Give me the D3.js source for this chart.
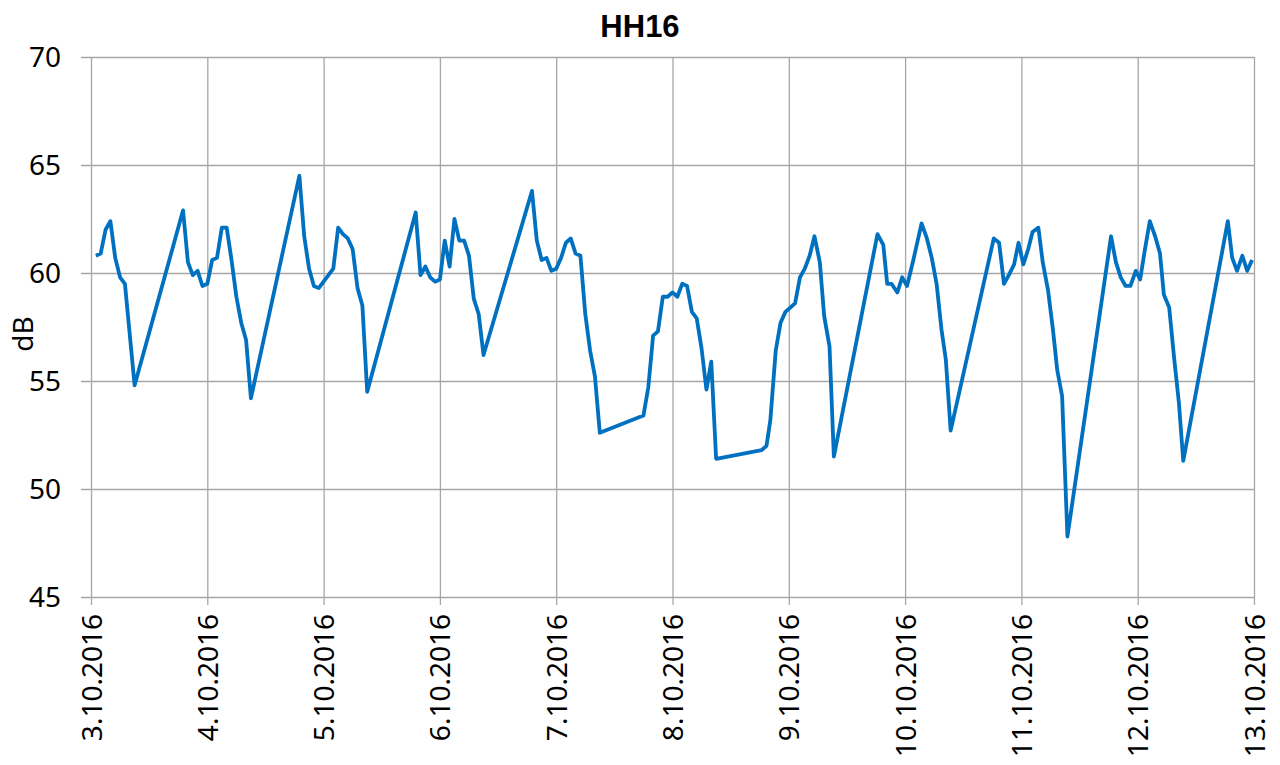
<!DOCTYPE html>
<html>
<head>
<meta charset="utf-8">
<script src="https://cdn.jsdelivr.net/npm/d3@7"></script>
<style>
  body { margin: 0; background: #fff; }
  text { font-family: "Noto Sans", "Open Sans", sans-serif; fill: #000; }
  .grid line { stroke: #a6a6a6; stroke-width: 1.3; }
</style>
</head>
<body>
<div class="svg-container"></div>
<script>
// chart data
let chartTitle = 'HH16';
let yLabel = 'dB';
let yTicks = [45, 50, 55, 60, 65, 70];
let dayLabels = ['3.10.2016', '4.10.2016', '5.10.2016', '6.10.2016', '7.10.2016',
  '8.10.2016', '9.10.2016', '10.10.2016', '11.10.2016', '12.10.2016', '13.10.2016'];

// hours since 3.10.2016 00:00
let hours = [
  1, 2, 3, 4, 5, 6, 7, 9,
  19, 20, 21, 22, 23, 24, 25, 26, 27, 28, 29, 30, 31, 32, 33,
  43, 44, 45, 46, 47, 48, 49, 50, 51, 52, 53, 54, 55, 56, 57,
  67, 68, 69, 70, 71, 72, 73, 74, 75, 76, 77, 78, 79, 80, 81,
  91, 92, 93, 94, 95, 96, 97, 98, 99, 100, 101, 102, 103, 104, 105,
  114, 115, 116, 117, 118, 119, 120, 121, 122, 123, 124, 125, 126, 127, 128, 129,
  138.4, 139.4, 140.2, 141.3, 142.3, 143.3, 144.3, 145.3, 146.3, 147.3, 148.3, 149.3, 150.4, 151.3, 152.4, 153.3,
  162.3, 163.5, 164.3, 165.2, 166.4, 167.4, 168.4, 169.7, 171.4, 172.5, 173.5, 174.5, 175.5, 176.4, 177.4,
  186.3, 187.4, 188.4, 189.4, 190.5, 191.4, 192.4, 193.4, 194.3, 195.5, 196.4, 197.5, 198.5, 199.4, 200.4, 201.5,
  210.5, 211.5, 212.5, 213.5, 214.5, 215.6, 216.5, 217.5, 218.5, 219.6, 220.6, 221.4, 222.5, 223.5, 224.5, 225.4,
  234.6, 235.5, 236.5, 237.6, 238.6, 239.6
];

let levels = [
  60.8, 60.9, 62.0, 62.4, 60.7, 59.8, 59.5, 54.8,
  62.9, 60.5, 59.9, 60.1, 59.4, 59.5, 60.6, 60.7, 62.1, 62.1, 60.6, 58.9, 57.7, 56.9, 54.2,
  64.5, 61.7, 60.2, 59.4, 59.3, 59.6, 59.9, 60.2, 62.1, 61.8, 61.6, 61.1, 59.3, 58.5, 54.5,
  62.8, 59.9, 60.3, 59.8, 59.6, 59.7, 61.5, 60.3, 62.5, 61.5, 61.5, 60.8, 58.8, 58.1, 56.2,
  63.8, 61.5, 60.6, 60.7, 60.1, 60.2, 60.7, 61.4, 61.6, 60.9, 60.8, 58.1, 56.4, 55.2, 52.6,
  53.4, 54.7, 57.1, 57.3, 58.9, 58.9, 59.1, 58.9, 59.5, 59.4, 58.2, 57.9, 56.5, 54.6, 55.9, 51.4,
  51.8, 52.0, 53.2, 56.4, 57.7, 58.2, 58.4, 58.6, 59.8, 60.2, 60.8, 61.7, 60.5, 58.0, 56.6, 51.5,
  61.8, 61.3, 59.5, 59.5, 59.1, 59.8, 59.4, 60.6, 62.3, 61.6, 60.7, 59.5, 57.4, 56.0, 52.7,
  61.6, 61.4, 59.5, 59.9, 60.4, 61.4, 60.4, 61.1, 61.9, 62.1, 60.5, 59.2, 57.4, 55.5, 54.3, 47.8,
  61.7, 60.5, 59.8, 59.4, 59.4, 60.1, 59.7, 61.1, 62.4, 61.7, 60.9, 59.0, 58.4, 56.1, 54.0, 51.3,
  62.4, 60.7, 60.1, 60.8, 60.1, 60.6
];

let width = 1280;
let height = 765;
let plotLeft = 91, plotRight = 1254, plotTop = 57, plotBottom = 597;

let start = new Date(2016, 9, 3);
let end = new Date(2016, 9, 13);
let toDate = h => new Date(start.getTime() + h * 3600e3);
let tickDates = dayLabels.map((d, i) => new Date(2016, 9, 3 + i));

let points = hours.map((h, i) => ({ date: toDate(h), value: levels[i] }));

let xScale = d3.scaleTime()
  .domain([start, end])
  .range([plotLeft, plotRight]);

let yScale = d3.scaleLinear()
  .domain([45, 70])
  .range([plotBottom, plotTop]);

let svg = d3.select('.svg-container')
  .append('svg')
  .attr('width', width)
  .attr('height', height);

// horizontal gridlines + y labels
let yAxis = d3.axisLeft(yScale)
  .tickValues(yTicks)
  .tickSizeOuter(0);

svg.append('g')
  .attr('class', 'grid')
  .attr('transform', `translate(${plotLeft}, 0)`)
  .call(yAxis)
  .call(g => g.select('.domain').remove())
  .call(g => g.selectAll('line').attr('x1', plotRight - plotLeft).attr('x2', -10))
  .call(g => g.selectAll('text')
    .attr('x', -30)
    .attr('dy', '0.35em')
    .style('text-anchor', 'end')
    .style('font-size', '28px'));

// vertical gridlines + date labels
let xAxis = d3.axisBottom(xScale)
  .tickValues(tickDates)
  .tickFormat((d, i) => dayLabels[i])
  .tickSizeOuter(0);

svg.append('g')
  .attr('class', 'grid')
  .attr('transform', `translate(0, ${plotBottom})`)
  .call(xAxis)
  .call(g => g.select('.domain').remove())
  .call(g => g.selectAll('line').attr('y1', -(plotBottom - plotTop)).attr('y2', 8))
  .call(g => g.selectAll('text')
    .attr('transform', 'rotate(-90)')
    .attr('x', -17)
    .attr('y', 0)
    .attr('dy', '0.36em')
    .style('text-anchor', 'end')
    .style('font-size', '28px'));

// the series
let line = d3.line()
  .x(d => xScale(d.date))
  .y(d => yScale(d.value));

svg.append('path')
  .datum(points)
  .attr('d', line)
  .attr('fill', 'none')
  .attr('stroke', '#0070c0')
  .attr('stroke-width', 3.8)
  .attr('stroke-linejoin', 'round');

svg.append('text')
  .attr('x', 640)
  .attr('y', 37)
  .style('text-anchor', 'middle')
  .style('font-family', '"Liberation Sans", Arial, sans-serif')
  .style('font-weight', 'bold')
  .style('font-size', '31px')
  .text(chartTitle);

svg.append('text')
  .attr('transform', 'rotate(-90)')
  .attr('x', -334)
  .attr('y', 23)
  .attr('dy', '0.35em')
  .style('text-anchor', 'middle')
  .style('font-size', '28px')
  .text(yLabel);
</script>
</body>
</html>
